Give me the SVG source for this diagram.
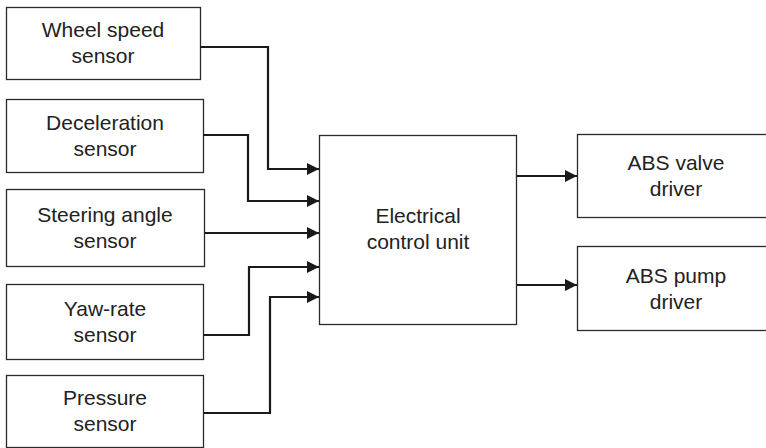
<svg xmlns="http://www.w3.org/2000/svg" width="766" height="448" viewBox="0 0 766 448">
<defs>
<marker id="arr" markerWidth="12" markerHeight="12" refX="12" refY="6" orient="auto" markerUnits="userSpaceOnUse">
<path d="M0,0 L12,6 L0,12 Z" fill="#1a1a1a"/>
</marker>
<style>
.box{fill:#fff;stroke:#2a2a2a;stroke-width:1.3}
.lbl{font-family:"Liberation Sans",Arial,sans-serif;font-size:21px;fill:#222;text-anchor:middle}
.wire{fill:none;stroke:#1a1a1a;stroke-width:2.2;marker-end:url(#arr)}
</style>
</defs>
<rect width="766" height="448" fill="#fff"/>
<g id="wheel">
<rect class="box" x="6.5" y="7.5" width="194" height="72"/>
<text class="lbl" x="103" y="37">Wheel speed</text>
<text class="lbl" x="103" y="63">sensor</text>
</g>
<g id="decel">
<rect class="box" x="6.5" y="99.5" width="197" height="73"/>
<text class="lbl" x="105" y="130">Deceleration</text>
<text class="lbl" x="105" y="156">sensor</text>
</g>
<g id="steering">
<rect class="box" x="6.5" y="189.5" width="198" height="77"/>
<text class="lbl" x="105" y="222">Steering angle</text>
<text class="lbl" x="105" y="248">sensor</text>
</g>
<g id="yaw">
<rect class="box" x="6.5" y="284.5" width="197" height="75"/>
<text class="lbl" x="105" y="316">Yaw-rate</text>
<text class="lbl" x="105" y="342">sensor</text>
</g>
<g id="pressure">
<rect class="box" x="6.5" y="375.5" width="197" height="72"/>
<text class="lbl" x="105" y="405">Pressure</text>
<text class="lbl" x="105" y="431">sensor</text>
</g>
<g id="ecu">
<rect class="box" x="319.5" y="135.5" width="197" height="189"/>
<text class="lbl" x="418" y="223">Electrical</text>
<text class="lbl" x="418" y="249">control unit</text>
</g>
<g id="valve">
<rect class="box" x="577.5" y="134.5" width="198" height="83"/>
<text class="lbl" x="676" y="170">ABS valve</text>
<text class="lbl" x="676" y="196">driver</text>
</g>
<g id="pump">
<rect class="box" x="577.5" y="246.5" width="198" height="84"/>
<text class="lbl" x="676" y="283">ABS pump</text>
<text class="lbl" x="676" y="309">driver</text>
</g>
<g id="connectors">
<path class="wire" d="M200,47 H268 V169 H319"/>
<path class="wire" d="M203,135 H248 V201 H319"/>
<path class="wire" d="M205,233 H319"/>
<path class="wire" d="M204,335 H249 V267 H319"/>
<path class="wire" d="M204,413 H270 V297 H319"/>
<path class="wire" d="M517,176 H577"/>
<path class="wire" d="M517,285 H577"/>
</g>
</svg>
